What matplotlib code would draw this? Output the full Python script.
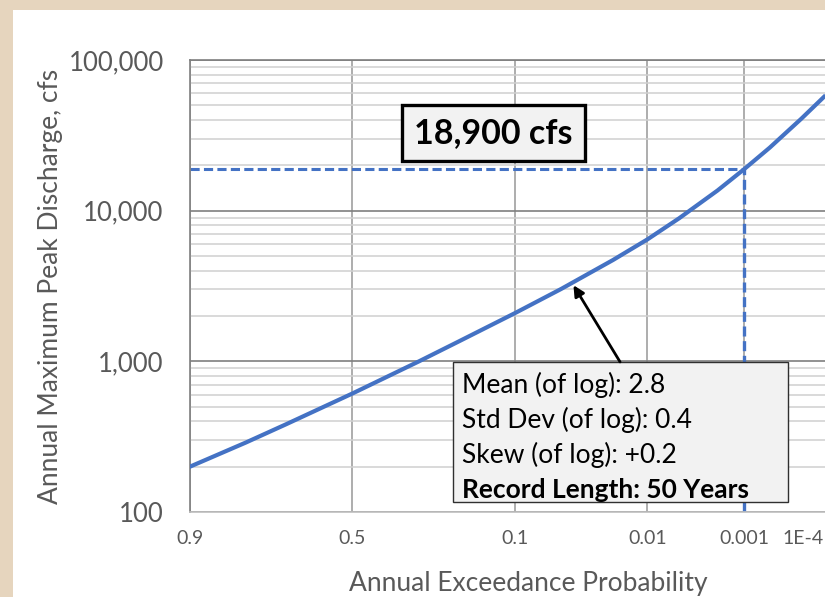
import math
from statistics import NormalDist

import numpy as np
import matplotlib
matplotlib.use("Agg")
import matplotlib.pyplot as plt
from matplotlib.patches import Rectangle
from matplotlib.ticker import FixedLocator, FixedFormatter, LogLocator, NullFormatter

# frequency curve
aep = [0.9, 0.8, 0.7, 0.5, 0.3, 0.2, 0.1, 0.05, 0.02, 0.01,
       0.005, 0.002, 0.001, 0.0005, 0.0002, 0.0001]
discharge = [200, 289, 382, 612, 1000, 1360, 2090, 3020, 4700, 6450,
             8900, 13600, 18900, 26200, 40800, 57000]

prob_ticks = [0.9, 0.5, 0.1, 0.01, 0.001, 0.0001]
prob_labels = ["0.9", "0.5", "0.1", "0.01", "0.001", "1E-4"]
q_ticks = [100, 1000, 10000, 100000]
q_labels = ["100", "1,000", "10,000", "100,000"]

design_aep = 0.001
design_q = 18900

stats_lines = ["Mean (of log): 2.8", "Std Dev (of log): 0.4", "Skew (of log): +0.2"]
record_line = "Record Length: 50 Years"

BLUE = "#4472C4"
GREY_TXT = "#595959"
plt.rcParams["font.family"] = ["Lato", "DejaVu Sans"]

# normal probability scale (increasing in p, axis is then inverted by the limits)
_nd = NormalDist()


def p_to_z(p):
    p = np.clip(np.asarray(p, dtype=float), 1e-12, 1 - 1e-12)
    return np.vectorize(_nd.inv_cdf, otypes=[float])(p)


def z_to_p(z):
    z = np.asarray(z, dtype=float)
    return np.vectorize(lambda v: 0.5 * math.erfc(-v / math.sqrt(2)), otypes=[float])(z)


fig = plt.figure(figsize=(8.25, 5.97), dpi=100)
fig.patch.set_facecolor("#E6D5BE")
fig.add_artist(Rectangle((13 / 825, 0), 1, 587 / 597, transform=fig.transFigure,
                         facecolor="white", edgecolor="none", zorder=0))

ax = fig.add_axes([190 / 825, 85 / 597, 640 / 825, 452 / 597])
ax.set_xscale("function", functions=(p_to_z, z_to_p))
ax.set_yscale("log")
ax.set_xlim(0.9, 8.3e-5)
ax.set_ylim(100, 100000)

# grid
ax.yaxis.set_minor_locator(LogLocator(base=10, subs=range(2, 10)))
ax.yaxis.set_minor_formatter(NullFormatter())
ax.grid(axis="y", which="minor", color="#D0D0D0", lw=1.1, zorder=0)
ax.grid(axis="y", which="major", color="#7F7F7F", lw=1.2, zorder=0)
for p in prob_ticks[:-1]:
    ax.axvline(p, color="#A0A0A0", lw=1.2, zorder=0)

# curve and design lines
ax.plot(aep, discharge, color=BLUE, lw=3.0, zorder=4, solid_joinstyle="round")
ax.plot([0.9, design_aep], [design_q, design_q], color=BLUE, lw=2.2,
        ls=(0, (3, 1.4)), zorder=2)
ax.plot([design_aep, design_aep], [100, design_q], color=BLUE, lw=2.4,
        ls=(0, (3, 1.4)), zorder=2)

# axes and ticks
ax.xaxis.set_major_locator(FixedLocator(prob_ticks))
ax.xaxis.set_major_formatter(FixedFormatter(prob_labels))
ax.xaxis.set_minor_locator(FixedLocator([]))
ax.yaxis.set_major_locator(FixedLocator(q_ticks))
ax.yaxis.set_major_formatter(FixedFormatter(q_labels))
ax.tick_params(axis="both", which="both", length=0)
ax.tick_params(axis="y", labelsize=18.5, labelcolor=GREY_TXT, pad=19)
ax.tick_params(axis="x", labelsize=14, labelcolor=GREY_TXT, pad=13)
ax.xaxis.get_major_ticks()[-1].label1.set_horizontalalignment("right")

ax.spines["right"].set_visible(False)
ax.spines["left"].set_color("#7F7F7F")
ax.spines["top"].set_color("#7F7F7F")
ax.spines["bottom"].set_color("#BFBFBF")
for s in ax.spines.values():
    s.set_linewidth(1.2)

ax.set_xlabel("Annual Exceedance Probability", fontsize=19, color=GREY_TXT)
ax.set_ylabel("Annual Maximum Peak Discharge, cfs", fontsize=19, color=GREY_TXT)
ax.xaxis.set_label_coords(0.528, -0.13)
ax.yaxis.set_label_coords(-0.198, 0.5)

# design value callout
ax.text(0.474, 0.8385, f"{design_q:,} cfs", transform=ax.transAxes, ha="center",
        va="center", fontsize=24.5, fontweight="bold", color="black", zorder=6,
        bbox=dict(boxstyle="square,pad=0.36", facecolor="#F2F2F2",
                  edgecolor="black", linewidth=2.4))

# statistics box
ax.add_patch(Rectangle((0.411, 0.022), 0.523, 0.31, transform=ax.transAxes,
                       facecolor="#F2F2F2", edgecolor="#303030", lw=1.0, zorder=5))
line_y = [0.281, 0.204, 0.126]
for txt, yy in zip(stats_lines, line_y):
    ax.text(0.425, yy, txt, transform=ax.transAxes, ha="left", va="center",
            fontsize=19, color="black", zorder=6)
ax.text(0.425, 0.049, record_line, transform=ax.transAxes, ha="left", va="center",
        fontsize=19, fontweight="bold", color="black", zorder=6)

ax.annotate("", xy=(0.0407, 3200), xycoords="data", xytext=(0.672, 0.332),
            textcoords="axes fraction", zorder=6,
            arrowprops=dict(arrowstyle="-|>", color="black", lw=2.0,
                            mutation_scale=16, shrinkA=0, shrinkB=0))

fig.savefig("out.png", dpi=100)
